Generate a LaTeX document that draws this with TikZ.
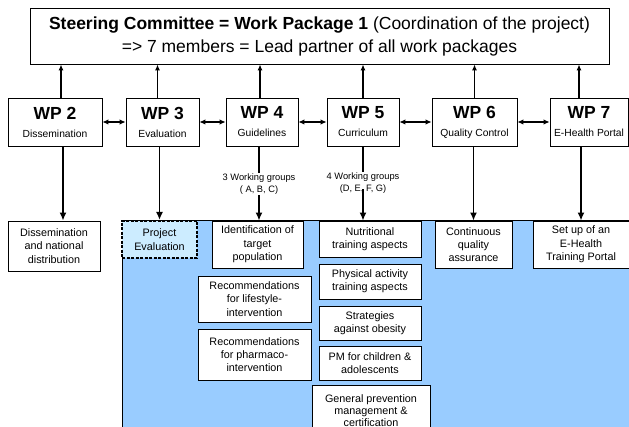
\documentclass[tikz,border=0pt]{standalone}
\usepackage{fontspec}
\setmainfont{Liberation Sans}
\usetikzlibrary{arrows.meta}
\definecolor{areablue}{HTML}{99CCFF}
\definecolor{evalblue}{HTML}{CCECFF}
\tikzset{
  box/.style={draw, fill=white, line width=0.8pt, align=center, inner sep=1pt, font=\fontsize{10.8}{13.3}\selectfont},
  wpbox/.style={box, minimum height=48pt, font=\fontsize{10.3}{18}\selectfont},
  uparrow/.style={-{Latex[length=6pt,width=5pt]}, line width=1.2pt},
  downline/.style={line width=1.8pt},
  downarrow/.style={downline, -{Latex[length=8pt,width=7pt]}},
  dblarrow/.style={{Latex[length=6pt,width=5.5pt]}-{Latex[length=6pt,width=5.5pt]}, line width=1.4pt},
  grouplabel/.style={fill=white, align=center, inner sep=1pt, font=\fontsize{9.3}{11.5}\selectfont}
}

\begin{document}
\begin{tikzpicture}[x=1pt,y=-1pt]
  \useasboundingbox (0,0) rectangle (629,427);
  \clip (0,0) rectangle (629,427);
  % blue area under the work packages
  \fill[areablue] (122,221) rectangle (640,440);
  \draw[line width=1pt] (122,440) -- (122,221) -- (640,221);

  \node[box, minimum width=579pt, minimum height=56pt, font=\fontsize{17.5}{23}\selectfont] (steer) at (319.5,36)
    {\textbf{Steering Committee = Work Package 1} (Coordination of the project)\\=> 7 members = Lead partner of all work packages};

  \foreach \n/\x/\w/\desc in {2/55/94/Dissemination, 3/162.5/73/Evaluation, 4/262/72/Guidelines, 5/363/72/Curriculum, 6/474.5/85/Quality Control, 7/589/78/E-Health Portal}
    {\node[wpbox, minimum width=\w pt] (wp\n) at (\x,122) {{\fontsize{17.5}{20}\selectfont\bfseries WP \n}\\\desc};}
  \foreach \n/\s in {2/6,3/-5,4/-2,5/0,6/0,7/-10}
    {\draw[uparrow] ([xshift=\s pt]wp\n.north) -- ([xshift=\s pt]wp\n.north |- steer.south);}
  \foreach \a/\b in {2/3,3/4,4/5,5/6,6/7}
    {\draw[dblarrow] (wp\a) -- (wp\b);}

  % tasks below the work packages
  \node[box, minimum width=92pt, minimum height=50pt] (dis) at (54,246) {Dissemination\\and national\\distribution};
  \node[box, fill=evalblue, dash pattern=on 3pt off 1.5pt, line width=2pt, minimum width=75pt, minimum height=37pt] (proj) at (159.5,239.5) {Project\\Evaluation};
  \node[box, minimum width=91pt, minimum height=47pt] (ident) at (257.5,244.5) {Identification of\\target\\population};
  \node[box, minimum width=113pt, minimum height=46pt] (rec1) at (254.5,299) {Recommendations\\for lifestyle-\\intervention};
  \node[box, minimum width=113pt, minimum height=51pt] (rec2) at (254.5,354.5) {Recommendations\\for pharmaco-\\intervention};
  \node[box, minimum width=102pt, minimum height=36pt] (nut) at (370,239) {Nutritional\\training aspects};
  \node[box, minimum width=102pt, minimum height=35pt] (phys) at (370,281.5) {Physical activity\\training aspects};
  \node[box, minimum width=102pt, minimum height=34pt] (strat) at (370,323) {Strategies\\against obesity};
  \node[box, minimum width=102pt, minimum height=34pt] (pm) at (370,363) {PM for children \&\\adolescents};
  \node[box, minimum width=118pt, minimum height=50pt, anchor=north, inner sep=2pt, font=\fontsize{10.8}{12.2}\selectfont] (gen) at (371,385) {General prevention\\management \&\\certification};
  \node[box, minimum width=77pt, minimum height=47pt] (cont) at (473.5,244.5) {Continuous\\quality\\assurance};
  \node[box, minimum width=96pt, minimum height=47pt] (setup) at (581,244.5) {Set up of an\\E-Health\\Training Portal};

  \node[grouplabel] (g4) at (259,184) {3 Working groups\\( A, B, C)};
  \node[grouplabel] (g5) at (363,183) {4 Working groups\\(D, E, F, G)};
  \coordinate (g5mid) at ([yshift=5pt]g5.south);

  \draw[downarrow] ([xshift=8pt]wp2.south) -- ([xshift=8pt]wp2.south |- dis.north);
  \draw[downarrow] (proj.north |- wp3.south) -- (proj.north);
  \draw[downline] (g4.north |- wp4.south) -- (g4.north);
  \draw[downarrow] (g4.south) -- (g4.south |- ident.north);
  \draw[downline] (wp5.south) -- (g5.north);
  \draw[downarrow] (g5mid) -- (g5mid |- nut.north);
  \draw[downarrow] (cont.north |- wp6.south) -- (cont.north);
  \draw[downarrow] (setup.north |- wp7.south) -- (setup.north);
\end{tikzpicture}
\end{document}
